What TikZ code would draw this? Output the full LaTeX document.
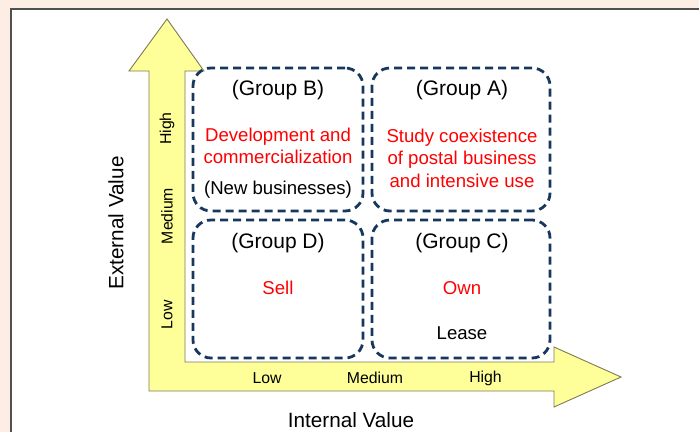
\documentclass[tikz,border=0pt]{standalone}
\usepackage{fontspec}
\setmainfont{Liberation Sans}
\definecolor{peach}{HTML}{FCEEE5}
\definecolor{navy}{HTML}{17375E}
\definecolor{arrowfill}{HTML}{FFFF99}
\definecolor{arrowline}{HTML}{7F7A55}
\definecolor{panelline}{HTML}{505050}
\tikzset{
  groupbox/.style={draw=navy, line width=2.8pt, dash pattern=on 8pt off 5pt, rounded corners=18pt, inner sep=0pt},
  grouptitle/.style={font=\fontsize{21}{25}\selectfont, text=black, inner sep=0pt},
  action/.style={font=\fontsize{18.6}{22.4}\selectfont, text=red, align=center, inner sep=0pt},
  note/.style={font=\fontsize{18.6}{22.4}\selectfont, text=black, align=center, inner sep=0pt},
  tick/.style={font=\fontsize{15.8}{18}\selectfont, inner sep=0pt},
  axislabel/.style={font=\fontsize{20.7}{24}\selectfont, inner sep=0pt},
}
\begin{document}
\begin{tikzpicture}[x=1pt,y=-1pt]
\useasboundingbox (0,0) rectangle (699,432);
\fill[peach] (0,0) rectangle (699,432);
\fill[white] (11,9) rectangle (699,432);
\draw[panelline, line width=2pt] (11,432) -- (11,9) -- (699,9);
% L-shaped arrow
\draw[fill=arrowfill, draw=arrowline, line width=0.9pt, line join=miter]
  (167,19) -- (204,71) -- (185,71) -- (185,362) -- (554,362) -- (554,347)
  -- (621,377) -- (554,407) -- (554,391) -- (149,391) -- (149,71) -- (129,71) -- cycle;
% group boxes
\node[groupbox, minimum width=170pt, minimum height=143pt] (B) at (278,139.5) {};
\node[groupbox, minimum width=178pt, minimum height=143pt] (A) at (461,139.5) {};
\node[groupbox, minimum width=170pt, minimum height=138pt] (D) at (278,289) {};
\node[groupbox, minimum width=178pt, minimum height=138pt] (C) at (461,289) {};
% texts
\node[grouptitle] (tB) at (278,90) {(Group B)};
\node[action] (aB) at (278,146) {Development and\\commercialization};
\node[note] (nB) at (278,190) {(New businesses)};
\node[grouptitle] (tA) at (462,90) {(Group A)};
\node[action] (aA) at (462,158) {Study coexistence\\of postal business\\and intensive use};
\node[grouptitle] (tD) at (278,243) {(Group D)};
\node[action] (aD) at (278,288) {Sell};
\node[grouptitle] (tC) at (462,243) {(Group C)};
\node[action] (aC) at (462,288) {Own};
\node[note] (nC) at (462,333) {Lease};
% tick labels
\node[tick] (xl) at (267,378) {Low};
\node[tick] (xm) at (375,378) {Medium};
\node[tick] (xh) at (485.5,378) {High};
\node[tick, rotate=90] (yh) at (167,128.5) {High};
\node[tick, rotate=90] (ym) at (167,216) {Medium};
\node[tick, rotate=90] (yl) at (167,315) {Low};
% axis labels
\node[axislabel] (ix) at (351,420) {Internal Value};
\node[axislabel, rotate=90] (ey) at (116,223) {External Value};
\end{tikzpicture}
\end{document}
